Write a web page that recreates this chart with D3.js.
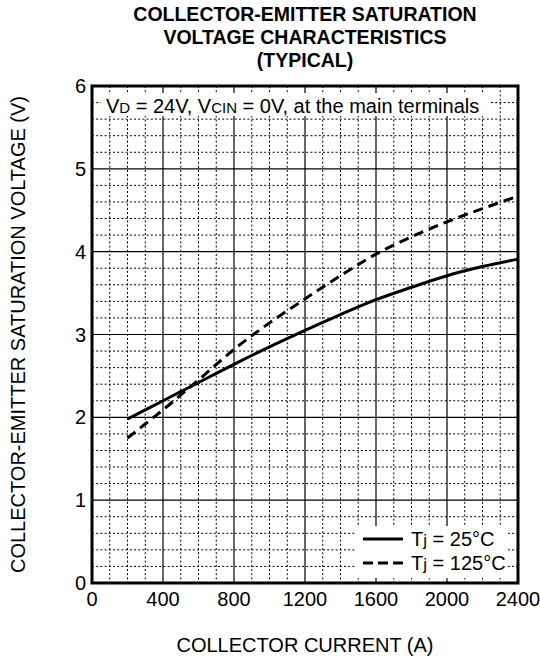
<!DOCTYPE html>
<html>
<head>
<meta charset="utf-8">
<script src="https://cdn.jsdelivr.net/npm/d3@7/dist/d3.min.js"></script>
<style>
  html, body { margin: 0; padding: 0; background: #fff; }
  svg { display: block; font-family: "Liberation Sans", Arial, Helvetica, sans-serif; }
</style>
</head>
<body>
<svg id="chart" width="540" height="657"></svg>
<script>
// ---- data ----
const titleLines = ["COLLECTOR-EMITTER SATURATION", "VOLTAGE CHARACTERISTICS", "(TYPICAL)"];
const xLabel = "COLLECTOR CURRENT (A)";
const yLabel = "COLLECTOR-EMITTER SATURATION VOLTAGE (V)";
const xTicks = [0, 400, 800, 1200, 1600, 2000, 2400];
const yTicks = [0, 1, 2, 3, 4, 5, 6];
const currentA = [200, 300, 400, 500, 600, 800, 1000, 1200, 1400, 1600, 1800, 2000, 2200, 2400];
const vce25  = [1.98, 2.09, 2.20, 2.31, 2.42, 2.64, 2.85, 3.05, 3.24, 3.42, 3.57, 3.71, 3.82, 3.91];
const vce125 = [1.75, 1.92, 2.09, 2.27, 2.45, 2.82, 3.14, 3.43, 3.71, 3.97, 4.18, 4.36, 4.52, 4.67];
const seriesNames = ["25°C", "125°C"];

// ---- layout ----
const svg = d3.select("#chart");
const L = 92, R = 518, T = 86, B = 583;
const x = d3.scaleLinear().domain([0, 2400]).range([L, R]);
const y = d3.scaleLinear().domain([0, 6]).range([B, T]);

// minor grid (dotted)
const minorX = d3.range(100, 2400, 100).filter(v => v % 400 !== 0);
const minorY = d3.range(1, 30).map(i => i * 0.2).filter(v => Math.abs(v - Math.round(v)) > 1e-6);
const grid = svg.append("g");
grid.selectAll(".mx").data(minorX).join("line")
  .attr("x1", d => x(d)).attr("x2", d => x(d)).attr("y1", T).attr("y2", B)
  .attr("stroke", "#000").attr("stroke-width", 1).attr("stroke-dasharray", "2,2.2");
grid.selectAll(".my").data(minorY).join("line")
  .attr("x1", L).attr("x2", R).attr("y1", d => y(d)).attr("y2", d => y(d))
  .attr("stroke", "#000").attr("stroke-width", 1).attr("stroke-dasharray", "2,2.2");
// major grid (solid)
grid.selectAll(".MX").data(xTicks.slice(1, -1)).join("line")
  .attr("x1", d => x(d)).attr("x2", d => x(d)).attr("y1", T).attr("y2", B)
  .attr("stroke", "#000").attr("stroke-width", 1.2);
grid.selectAll(".MY").data(yTicks.slice(1, -1)).join("line")
  .attr("x1", L).attr("x2", R).attr("y1", d => y(d)).attr("y2", d => y(d))
  .attr("stroke", "#000").attr("stroke-width", 1.2);

// annotation box
svg.append("rect").attr("x", 101).attr("y", 93).attr("width", 388).attr("height", 23).attr("fill", "#fff");
const ann = svg.append("text").attr("x", 106).attr("y", 113).attr("font-size", 20).attr("fill", "#000");
ann.append("tspan").text("V");
ann.append("tspan").attr("font-size", 15).text("D");
ann.append("tspan").text(" = 24V, V");
ann.append("tspan").attr("font-size", 15).text("CIN");
ann.append("tspan").text(" = 0V, at the main terminals");

// legend box
svg.append("rect").attr("x", 355).attr("y", 526).attr("width", 153).attr("height", 52).attr("fill", "#fff");

// curves
const line = d3.line().x(d => x(d[0])).y(d => y(d[1])).curve(d3.curveCatmullRom.alpha(0.5));
const s25 = currentA.map((c, i) => [c, vce25[i]]);
const s125 = currentA.map((c, i) => [c, vce125[i]]);
svg.append("path").attr("d", line(s25)).attr("fill", "none").attr("stroke", "#000").attr("stroke-width", 3);
svg.append("path").attr("d", line(s125)).attr("fill", "none").attr("stroke", "#000").attr("stroke-width", 3)
  .attr("stroke-dasharray", "10,6");

// legend
const legY = [539, 563];
svg.append("line").attr("x1", 363).attr("x2", 403).attr("y1", legY[0]).attr("y2", legY[0])
  .attr("stroke", "#000").attr("stroke-width", 3);
svg.append("line").attr("x1", 363).attr("x2", 403).attr("y1", legY[1]).attr("y2", legY[1])
  .attr("stroke", "#000").attr("stroke-width", 3).attr("stroke-dasharray", "10,5");
seriesNames.forEach((nm, i) => {
  const t = svg.append("text").attr("x", 411).attr("y", legY[i] + 7).attr("font-size", 20).attr("fill", "#000");
  t.append("tspan").text("T");
  t.append("tspan").attr("font-size", 17).text("j");
  t.append("tspan").text(" = " + nm);
});

// frame
svg.append("rect").attr("x", L).attr("y", T).attr("width", R - L).attr("height", B - T)
  .attr("fill", "none").attr("stroke", "#000").attr("stroke-width", 3);

// tick labels
svg.append("g").selectAll("text").data(xTicks).join("text")
  .attr("x", d => x(d)).attr("y", 606).attr("text-anchor", "middle").attr("font-size", 20).text(d => d);
svg.append("g").selectAll("text").data(yTicks).join("text")
  .attr("x", 86).attr("y", d => y(d) + 7).attr("text-anchor", "end").attr("font-size", 20).text(d => d);

// axis titles
svg.append("text").attr("x", (L + R) / 2).attr("y", 652).attr("text-anchor", "middle").attr("font-size", 20).text(xLabel);
svg.append("text").attr("transform", `translate(25,${(T + B) / 2}) rotate(-90)`)
  .attr("text-anchor", "middle").attr("font-size", 20).text(yLabel);

// title
svg.append("g").selectAll("text").data(titleLines).join("text")
  .attr("x", 305).attr("y", (d, i) => 21 + i * 23).attr("text-anchor", "middle")
  .attr("font-size", 19.5).attr("font-weight", "bold").text(d => d);
</script>
</body>
</html>
